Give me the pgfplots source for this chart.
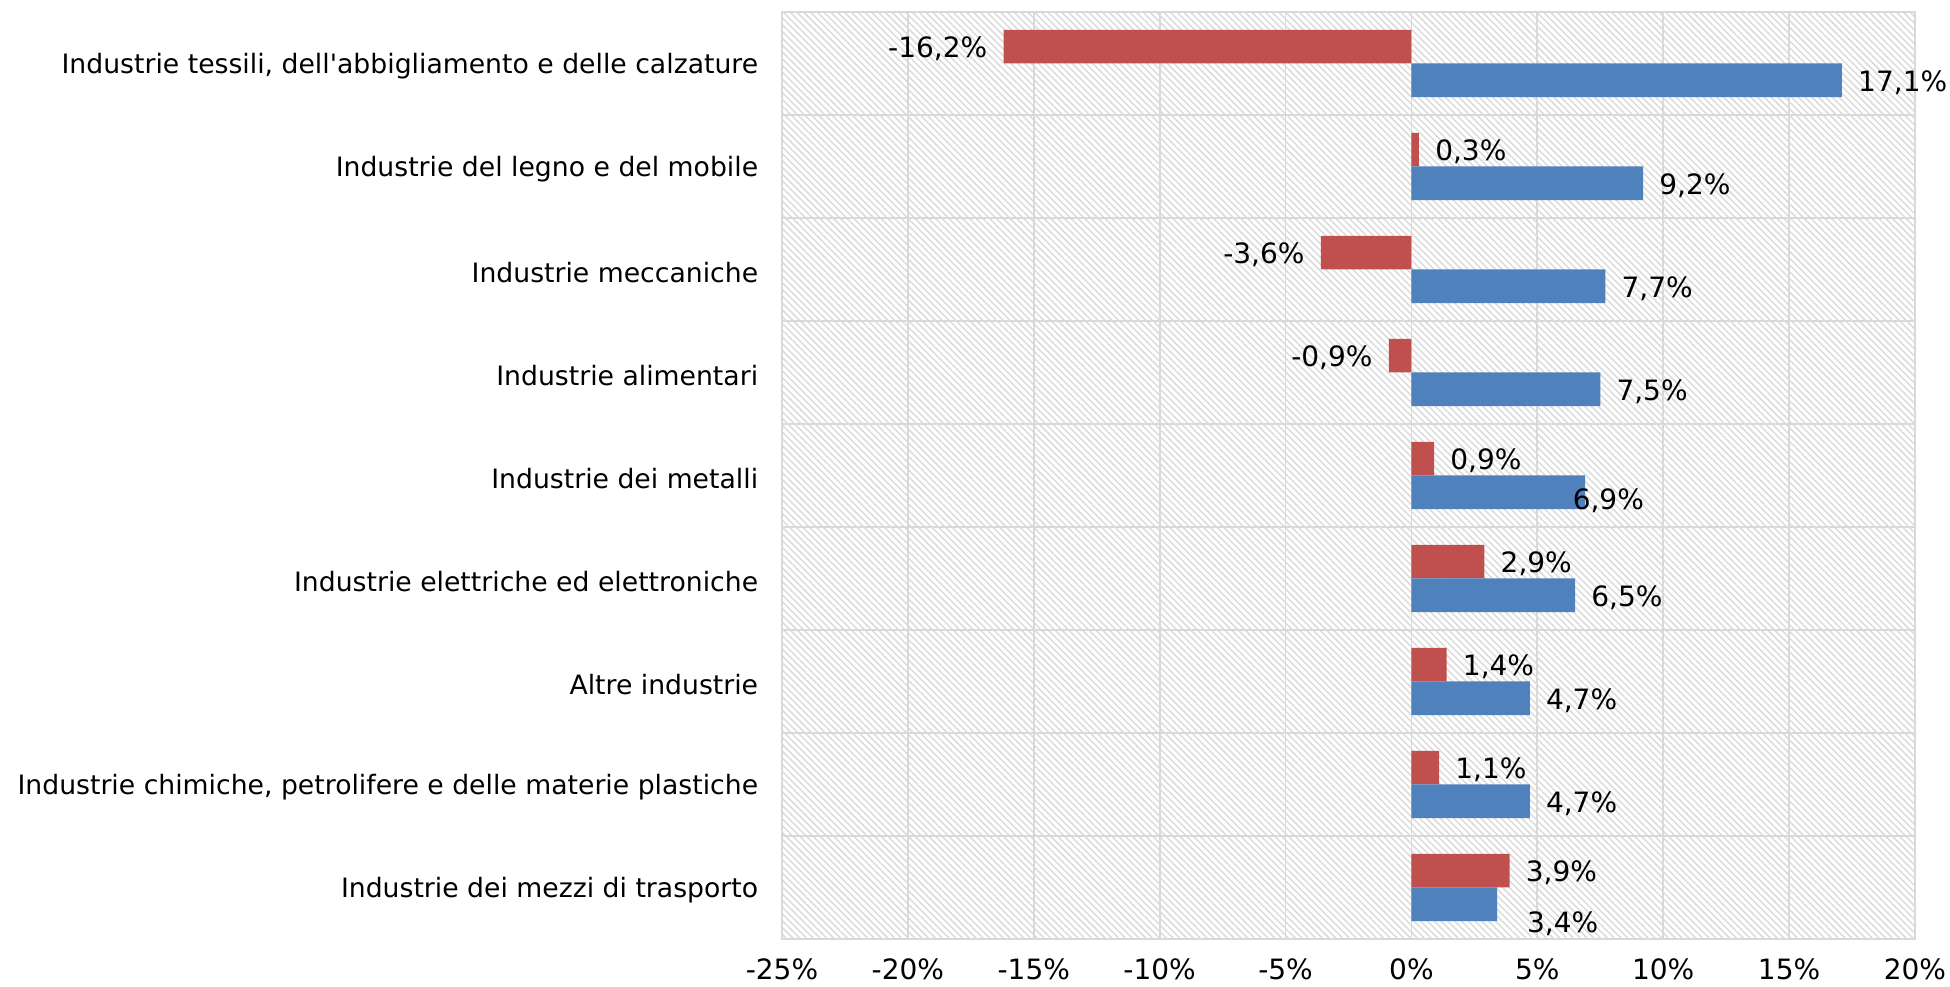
\documentclass[border=0pt]{standalone}
\usepackage{pgfplots}
\pgfplotsset{compat=1.18}
\usepackage{pgfplotstable}
\usetikzlibrary{patterns.meta}
\usepackage{fontspec}
\setmainfont{DejaVu Sans}
\definecolor{redbar}{HTML}{C0504D}
\definecolor{bluebar}{HTML}{4F81BD}
\definecolor{gridgray}{HTML}{D9D9D9}
\definecolor{hatch}{HTML}{DADADA}
\pgfplotstableread{
y x dx dy
8 -16.2 0 0
7 0.3 0 0
6 -3.6 0 0
5 -0.9 0 0
4 0.9 0 0
3 2.9 0 0
2 1.4 0 0
1 1.1 0 0
0 3.9 0 0
}\reddata
\pgfplotstableread{
y x dx dy
8 17.1 0 0
7 9.2 0 0
6 7.7 0 0
5 7.5 0 0
4 6.9 -21.5 -4.7
3 6.5 0 0
2 4.7 0 0
1 4.7 0 0
0 3.4 10.3 -13
}\bluedata
\begin{document}
\fontsize{20}{24}\selectfont
\begin{tikzpicture}
\path[use as bounding box] (-586.5pt,-36pt) rectangle (876pt,704.25pt);
\begin{axis}[
  at={(0pt,0pt)}, anchor=south west,
  scale only axis, width=849.75pt, height=695.25pt,
  xmin=-25, xmax=20, ymin=-0.5, ymax=8.5,
  xtick={-25,-20,...,20},
  ytick={0,1,2,3,4,5,6,7,8},
  yticklabels={Industrie dei mezzi di trasporto,
    {Industrie chimiche, petrolifere e delle materie plastiche},
    Altre industrie,
    Industrie elettriche ed elettroniche,
    Industrie dei metalli,
    Industrie alimentari,
    Industrie meccaniche,
    Industrie del legno e del mobile,
    {Industrie tessili, dell\textquotesingle abbigliamento e delle calzature}},
  minor ytick={-0.5,0.5,...,8.5},
  xmajorgrids, yminorgrids,
  major grid style={draw=gridgray, line width=1.3pt},
  minor grid style={draw=gridgray, line width=1.3pt},
  axis line style={draw=gridgray, line width=1.3pt},
  major tick length=0pt, minor tick length=0pt,
  axis background/.style={pattern={Lines[angle=-45, distance=3.6pt, line width=1.1pt]}, pattern color=hatch},
  xticklabel={\pgfmathprintnumber[assume math mode=true]{\tick}\%},
  yticklabel style={font=\fontsize{20}{24}\selectfont, xshift=-11pt, yshift=-2pt},
  xticklabel style={font=\fontsize{21}{25}\selectfont, yshift=-8pt},
  xbar, bar width=25.2pt,
  clip=false,
]
\addplot[fill=redbar, draw=none, bar shift=12.6pt,
  point meta=x,
  nodes near coords={\pgfmathprintnumber[fixed,fixed zerofill,precision=1,use comma,assume math mode=true]{\pgfplotspointmeta}\%},
  every node near coord/.append style={font=\fontsize{21}{25}\selectfont, inner xsep=12pt, text=black, yshift=-1.5pt}
  ] table[x=x, y=y] {\reddata};
\addplot[fill=bluebar, draw=none, bar shift=-12.6pt,
  point meta=x,
  visualization depends on={\thisrow{dx} \as \dx},
  visualization depends on={\thisrow{dy} \as \dy},
  nodes near coords={\pgfmathprintnumber[fixed,fixed zerofill,precision=1,use comma,assume math mode=true]{\pgfplotspointmeta}\%},
  every node near coord/.append style={font=\fontsize{21}{25}\selectfont, inner xsep=12pt, text=black, xshift=\dx pt, yshift={\dy pt - 1.5pt}}
  ] table[x=x, y=y] {\bluedata};
\end{axis}
\end{tikzpicture}
\end{document}
